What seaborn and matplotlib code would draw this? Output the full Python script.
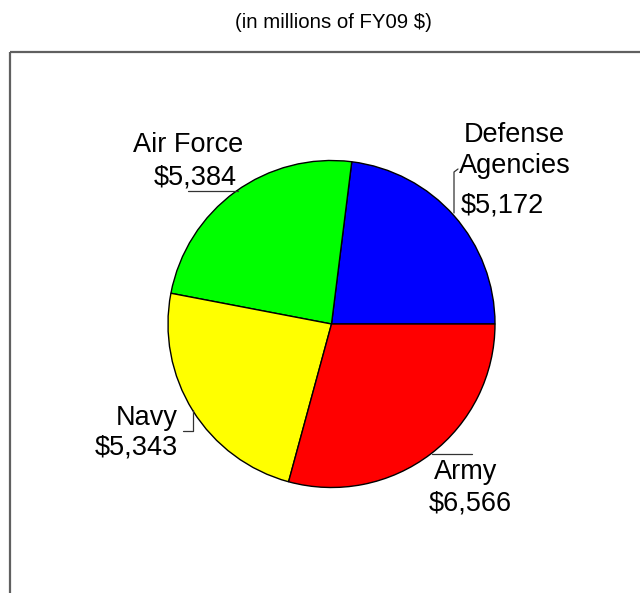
import matplotlib
matplotlib.use("Agg")
import matplotlib.pyplot as plt
import seaborn as sns

# Data
categories = ["Defense Agencies", "Air Force", "Navy", "Army"]
values = [5172, 5384, 5343, 6566]
value_labels = ["$5,172", "$5,384", "$5,343", "$6,566"]
colors = ["#0000FF", "#00FF00", "#FFFF00", "#FF0000"]
title = "(in millions of FY09 $)"

sns.set_theme(style="white")
plt.rcParams['font.family'] = ['Liberation Sans', 'DejaVu Sans']
plt.rcParams['text.color'] = 'black'

W, H = 640, 593
fig = plt.figure(figsize=(W / 100, H / 100), dpi=100)
ax = fig.add_axes([0, 0, 1, 1])


def Y(py):
    return H - py


CX, CY, R = 331.5, 324, 163.5
ax.pie(values, colors=colors, startangle=0, counterclock=True,
       center=(CX, Y(CY)), radius=R, frame=True,
       wedgeprops=dict(edgecolor="black", linewidth=1.0))
ax.set_xlim(0, W)
ax.set_ylim(0, H)
ax.set_aspect("equal")
ax.axis("off")

# frame box
fc = "#606060"
ax.plot([10, 10], [Y(52), Y(H + 5)], color=fc, lw=1.6, solid_capstyle="butt")
ax.plot([10, W + 5], [Y(52), Y(52)], color=fc, lw=1.6, solid_capstyle="butt")

# title
ax.text(333, Y(28), title, ha="center", va="baseline", fontsize=14.7, color="black")

fs = 19.5
tc = "black"
# Defense Agencies
ax.text(514.5, Y(142), "Defense", ha="center", va="baseline", fontsize=fs, color=tc)
ax.text(515, Y(173), "Agencies", ha="center", va="baseline", fontsize=fs, color=tc)
ax.text(461, Y(213), value_labels[0], ha="left", va="baseline", fontsize=fs, color=tc)
# Air Force
ax.text(188, Y(152), "Air Force", ha="center", va="baseline", fontsize=fs, color=tc)
ax.text(195, Y(185), value_labels[1], ha="center", va="baseline", fontsize=fs, color=tc)
# Navy
ax.text(178, Y(425), "Navy", ha="right", va="baseline", fontsize=fs, color=tc)
ax.text(178, Y(455), value_labels[2], ha="right", va="baseline", fontsize=fs, color=tc)
# Army
ax.text(466, Y(479), "Army", ha="center", va="baseline", fontsize=fs, color=tc)
ax.text(470.5, Y(510), value_labels[3], ha="center", va="baseline", fontsize=fs, color=tc)

# leader lines
lc = "#333333"
lw = 0.9
ax.plot([458, 454, 454], [Y(169), Y(172), Y(213)], color=lc, lw=lw)
ax.plot([188, 238], [Y(191), Y(191)], color=lc, lw=lw)
ax.plot([183, 193, 193], [Y(431), Y(431), Y(410)], color=lc, lw=lw)
ax.plot([432, 472], [Y(454), Y(454)], color=lc, lw=lw)

fig.savefig("out.png", dpi=100)
